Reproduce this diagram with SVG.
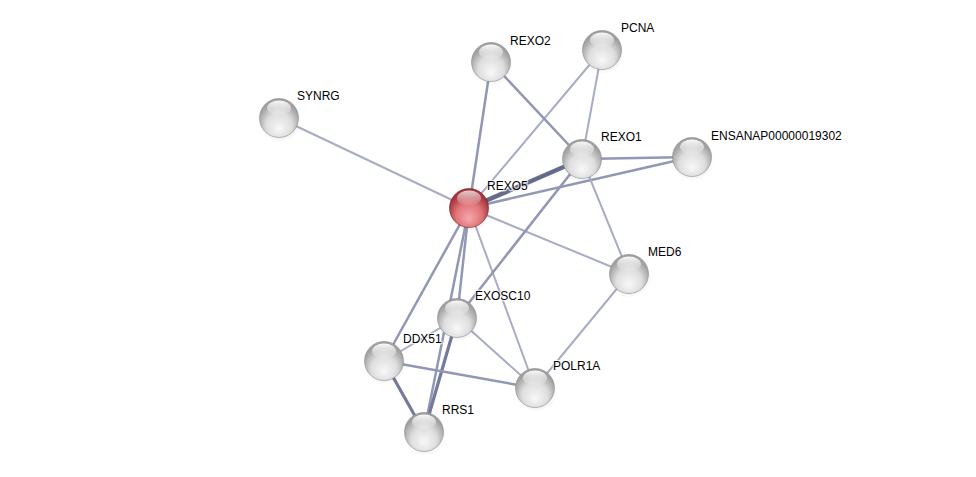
<svg xmlns="http://www.w3.org/2000/svg" width="976" height="477" viewBox="0 0 976 477">
<defs>
<radialGradient id="gGray" cx="50%" cy="65%" r="55%" fx="50%" fy="78%">
<stop offset="0" stop-color="#f8f8f8"/>
<stop offset="0.6" stop-color="#dedede"/>
<stop offset="1" stop-color="#a0a0a0"/>
</radialGradient>
<radialGradient id="gRed" cx="50%" cy="65%" r="55%" fx="50%" fy="78%">
<stop offset="0" stop-color="#f7a8aa"/>
<stop offset="0.6" stop-color="#e07478"/>
<stop offset="1" stop-color="#a3343a"/>
</radialGradient>
<linearGradient id="gHi" x1="0" y1="0" x2="0" y2="1">
<stop offset="0" stop-color="#ffffff" stop-opacity="0.95"/>
<stop offset="1" stop-color="#ffffff" stop-opacity="0.05"/>
</linearGradient>
<radialGradient id="gShadow" cx="50%" cy="50%" r="50%">
<stop offset="0" stop-color="#000" stop-opacity="0.22"/>
<stop offset="1" stop-color="#000" stop-opacity="0"/>
</radialGradient>
<g id="sphere">
<ellipse cx="1" cy="4" rx="21" ry="20" fill="url(#gShadow)"/>
<circle r="19.5" fill="url(#gGray)" stroke="#8c8c8c" stroke-width="0.6"/>
<ellipse cx="0" cy="-10" rx="12" ry="7.5" fill="url(#gHi)"/>
</g>
<g id="sphereRed">
<ellipse cx="1" cy="4" rx="21" ry="20" fill="url(#gShadow)"/>
<circle r="19.5" fill="url(#gRed)" stroke="#7a1e22" stroke-width="0.6"/>
<ellipse cx="0" cy="-10" rx="12" ry="7.5" fill="url(#gHi)" opacity="0.8"/>
</g>
</defs>
<style>
.e{fill:none;stroke-linecap:round}
.l{stroke:#a8acc4;stroke-width:2}
.m{stroke:#9197b4;stroke-width:2.5}
.d{stroke:#737a9c;stroke-width:3.2}
.x{stroke:#646b8d;stroke-width:4.5}
text{font-family:"Liberation Sans",Arial,sans-serif;font-size:12px;fill:#000;stroke:#fff;stroke-width:2.5px;stroke-opacity:0.7;paint-order:stroke}
</style>
<rect width="976" height="477" fill="#fff"/>
<g id="edges" class="e">
<line class="l" x1="469" y1="208" x2="279" y2="118"/>
<line class="m" x1="469" y1="208" x2="491" y2="62"/>
<line class="l" x1="469" y1="208" x2="602" y2="50"/>
<line class="x" x1="469" y1="208" x2="582" y2="159"/>
<line class="m" x1="469" y1="208" x2="692" y2="157"/>
<line class="l" x1="469" y1="208" x2="629" y2="274"/>
<line class="m" x1="469" y1="208" x2="457" y2="318"/>
<line class="m" x1="469" y1="208" x2="384" y2="361"/>
<line class="m" x1="469" y1="208" x2="424" y2="432"/>
<line class="l" x1="469" y1="208" x2="535" y2="388"/>
<line class="m" x1="491" y1="62" x2="582" y2="159"/>
<line class="l" x1="602" y1="50" x2="582" y2="159"/>
<line class="m" x1="582" y1="159" x2="692" y2="157"/>
<line class="l" x1="582" y1="159" x2="629" y2="274"/>
<line class="m" x1="582" y1="159" x2="457" y2="318"/>
<line class="l" x1="629" y1="274" x2="535" y2="388"/>
<line class="l" x1="457" y1="318" x2="384" y2="361"/>
<line class="l" x1="457" y1="318" x2="535" y2="388"/>
<line class="d" x1="457" y1="318" x2="424" y2="432"/>
<line class="m" x1="384" y1="361" x2="535" y2="388"/>
<line class="d" x1="384" y1="361" x2="424" y2="432"/>
</g>
<g id="SYNRG"><use href="#sphere" x="279" y="118"/><text x="297" y="100">SYNRG</text></g>
<g id="REXO2"><use href="#sphere" x="491" y="62"/><text x="510" y="45">REXO2</text></g>
<g id="PCNA"><use href="#sphere" x="602" y="50"/><text x="621" y="32">PCNA</text></g>
<g id="REXO1"><use href="#sphere" x="582" y="159"/><text x="601" y="141">REXO1</text></g>
<g id="ENSANAP00000019302"><use href="#sphere" x="692" y="157"/><text x="711" y="140">ENSANAP00000019302</text></g>
<g id="MED6"><use href="#sphere" x="629" y="274"/><text x="648" y="256">MED6</text></g>
<g id="EXOSC10"><use href="#sphere" x="457" y="318"/><text x="475" y="300">EXOSC10</text></g>
<g id="DDX51"><use href="#sphere" x="384" y="361"/><text x="403" y="343">DDX51</text></g>
<g id="POLR1A"><use href="#sphere" x="535" y="388"/><text x="553" y="370">POLR1A</text></g>
<g id="RRS1"><use href="#sphere" x="424" y="432"/><text x="442" y="414">RRS1</text></g>
<g id="REXO5"><use href="#sphereRed" x="469" y="208"/><text x="487" y="190">REXO5</text></g>
</svg>
